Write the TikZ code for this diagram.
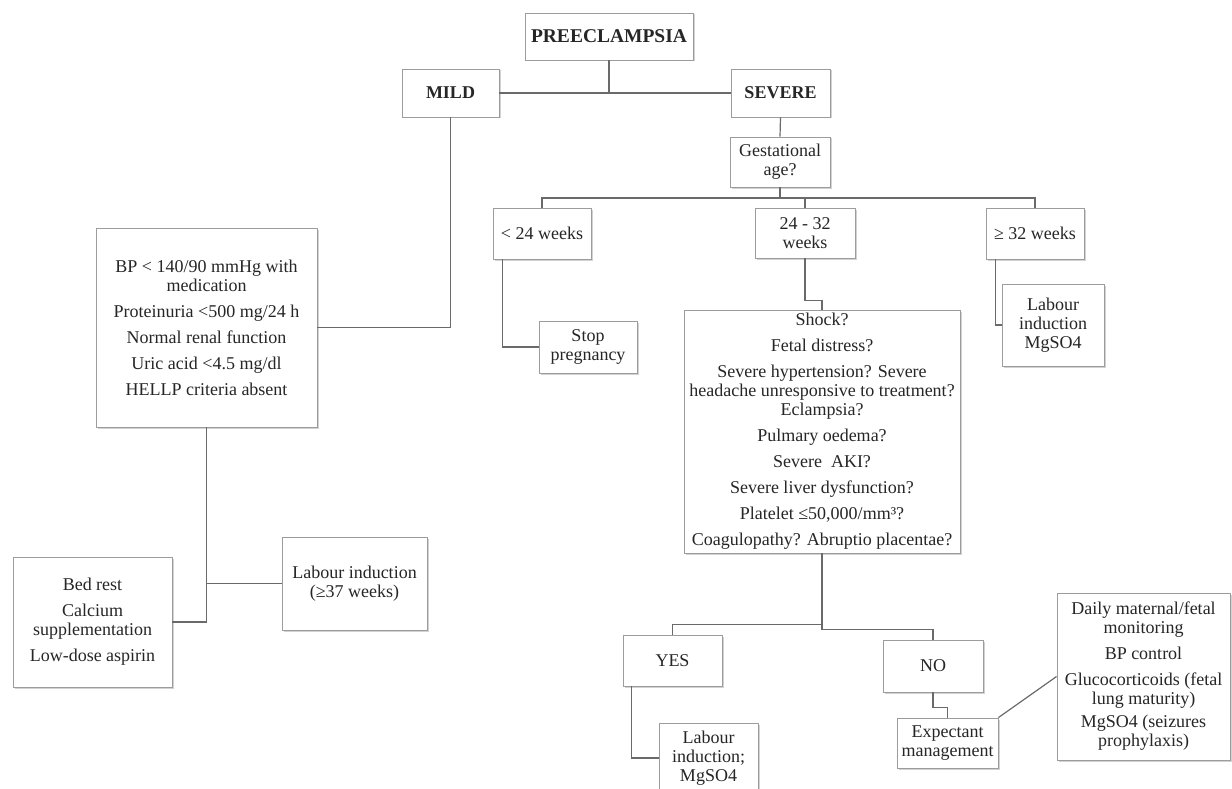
\documentclass[tikz,border=0pt]{standalone}
\usepackage{fontspec}
\setmainfont{Liberation Serif}
\usetikzlibrary{calc}
\usetikzlibrary{shadows}
\definecolor{boxline}{HTML}{9C9C9C}
\definecolor{linkline}{HTML}{6A6A6A}
\definecolor{ink}{HTML}{262626}
\tikzset{
  box/.style={draw=boxline, line width=0.9pt, fill=white, text=ink, align=center, inner sep=2pt,
    drop shadow={shadow xshift=1.5pt, shadow yshift=-1.5pt, fill=black!35, opacity=0.5},
    font=\fontsize{18}{19}\selectfont},
  title/.style={box, font=\fontsize{18}{19}\selectfont\bfseries},
  link/.style={draw=linkline, line width=1.2pt}
}

\begin{document}
\begin{tikzpicture}[x=1pt, y=-1pt]
  \useasboundingbox (0,0) rectangle (1232,789);

  \node[title, minimum width=168pt, minimum height=47pt, font=\fontsize{19.5}{21}\selectfont\bfseries] (pre) at (609,36.5) {PREECLAMPSIA};
  \node[title, minimum width=97pt, minimum height=48pt] (mild) at (450.5,93) {MILD};
  \node[title, minimum width=99pt, minimum height=48pt] (severe) at (780.5,93) {SEVERE};

  % severe branch
  \node[box, minimum width=100pt, minimum height=50pt] (gest) at (780,162) {Gestational\\age?};
  \node[box, minimum width=98pt, minimum height=51pt] (lt24) at (542,233.5) {< 24 weeks};
  \node[box, minimum width=100pt, minimum height=50pt] (mid) at (805,233) {24 - 32\\weeks};
  \node[box, minimum width=98pt, minimum height=51pt] (ge32) at (1035,233.5) {≥ 32 weeks};
  \node[box, minimum width=98pt, minimum height=52pt] (stop) at (588,347) {Stop\\pregnancy};
  \node[box, minimum width=102pt, minimum height=82pt] (lab32) at (1053,325) {Labour\\induction\\MgSO4};
  \node[box, minimum width=276pt, minimum height=243pt] (crit) at (822,431.5) {Shock?\\[7pt] Fetal distress?\\[7pt] Severe hypertension? Severe\\headache unresponsive to treatment?\\Eclampsia?\\[7pt] Pulmary oedema?\\[7pt] Severe\ \ AKI?\\[7pt] Severe liver dysfunction?\\[7pt] Platelet ≤50,000/mm³?\\[7pt] Coagulopathy? Abruptio placentae?};
  \node[box, minimum width=99pt, minimum height=51pt] (yes) at (672.5,660.5) {YES};
  \node[box, minimum width=100pt, minimum height=52pt] (no) at (933,666) {NO};
  \node[box, minimum width=99pt, minimum height=70pt] (labyes) at (708.5,758) {Labour\\induction;\\MgSO4};
  \node[box, minimum width=101pt, minimum height=50pt] (expect) at (947.5,743) {Expectant\\management};
  \node[box, minimum width=173pt, minimum height=167pt] (daily) at (1143.5,676.5) {Daily maternal/fetal\\monitoring\\[7pt] BP control\\[7pt] Glucocorticoids (fetal\\lung maturity)\\[4pt] MgSO4 (seizures\\prophylaxis)};

  % mild branch
  \node[box, minimum width=221pt, minimum height=199pt] (bp) at (206.5,327.5) {BP < 140/90 mmHg with\\medication\\[7pt] Proteinuria <500 mg/24 h\\[7pt] Normal renal function\\[7pt] Uric acid <4.5 mg/dl\\[7pt] HELLP criteria absent};
  \node[box, minimum width=159pt, minimum height=130pt] (bed) at (92.5,622) {Bed rest\\[7pt] Calcium\\supplementation\\[7pt] Low-dose aspirin};
  \node[box, minimum width=145pt, minimum height=93pt] (lab37) at (354.5,583.5) {Labour induction\\(≥37 weeks)};

  \coordinate (gbus) at (780,198);

  \draw[link] (pre.south) -- (pre.south |- mild.east);
  \draw[link] (mild.east) -- (severe.west);
  \draw[link] (severe.south) -- (gest.north);
  \draw[link] (gest.south) -- (gbus);
  \draw[link] (lt24.north) |- (gbus) -| (ge32.north);
  \draw[link] (mid.north) |- (gbus);
  \draw[link] ($(lt24.south west)+(10,0)$) |- (stop.west);
  \draw[link] ($(ge32.south west)+(10,0)$) |- (lab32.west);
  \draw[link] (mid.south) -- ++(0,42) -| (crit.north);
  \draw[link] (crit.south) |- ($(yes.north)+(0,-10)$) -- (yes.north);
  \draw[link] (crit.south) |- ($(no.north)+(0,-10)$) -- (no.north);
  \draw[link] ($(yes.south west)+(9,0)$) |- (labyes.west);
  \draw[link] (no.south) -- ++(0,15) -| (expect.north);
  \draw[link] (expect.north east) -- (daily.west);

  \draw[link] (mild.south) |- (bp.east);
  \draw[link] (bp.south) |- (bed.east);
  \draw[link] (bp.south |- lab37.west) -- (lab37.west);
\end{tikzpicture}
\end{document}
